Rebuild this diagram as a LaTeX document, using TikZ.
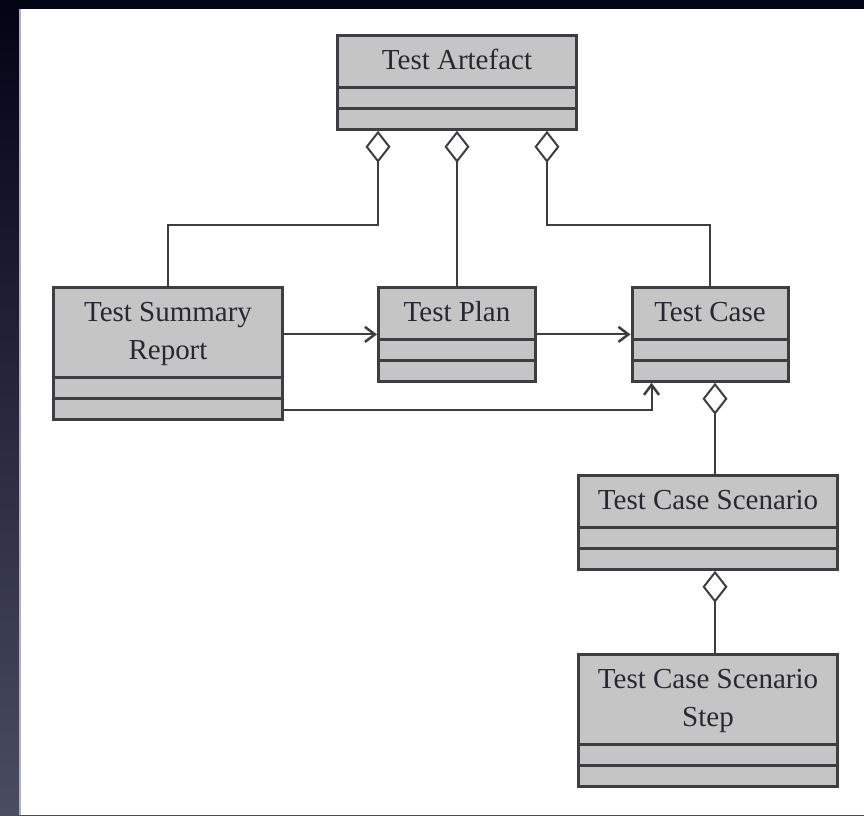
\documentclass[tikz,border=0pt]{standalone}
\usepackage{fontspec}
\setmainfont{Liberation Serif}
\usetikzlibrary{shapes.multipart,arrows.meta,positioning}

\definecolor{boxgray}{RGB}{197,197,197}
\definecolor{edgegray}{RGB}{62,62,66}
\definecolor{inkgray}{RGB}{40,40,48}
\definecolor{navytop}{RGB}{3,3,22}
\definecolor{navybot}{RGB}{74,76,98}

\tikzset{
  cls/.style={rectangle split, rectangle split parts=3, draw=edgegray, fill=boxgray,
    line width=0.06cm, text=inkgray,
    inner xsep=0.1cm, inner ysep=0.1cm,
    font=\fontsize{16.5}{22}\selectfont, anchor=north},
  aggr/.style={draw=edgegray, line width=0.04cm,
    {Diamond[open,length=0.64cm,width=0.5cm,line width=0.04cm]}-},
  assoc/.style={draw=edgegray, line width=0.04cm,
    -{Straight Barb[length=0.2cm,width=0.3cm,line width=0.05cm]}}
}

\begin{document}
\begin{tikzpicture}[x=0.02cm,y=-0.02cm]
	\useasboundingbox (0,0) rectangle (864,815);
	\shade[top color=navytop, bottom color=navybot] (0,0) rectangle (864,815);
	\fill[navytop] (0,0) rectangle (864,9);
	\fill[white] (20,9) rectangle (864,815);
	\draw[gray!60, line width=0.03cm] (20,9) -- (20,815);

	\node[cls, minimum width=4.8cm] (ta) at (457,34) {\strut Test Artefact\strut\nodepart{two}\nodepart{three}};
	\node[cls, minimum width=4.6cm] (tsr) at (168,286) {\begin{tabular}{@{}c@{}}Test Summary\\Report\end{tabular}\nodepart{two}\nodepart{three}};
	\node[cls, minimum width=3.14cm] (tp) at (457,286) {\strut Test Plan\strut\nodepart{two}\nodepart{three}};
	\node[cls, minimum width=3.12cm] (tc) at (710,286) {\strut Test Case\strut\nodepart{two}\nodepart{three}};
	\node[cls, minimum width=5.2cm] (tcs) at (708,474) {\strut Test Case Scenario\strut\nodepart{two}\nodepart{three}};
	\node[cls, minimum width=5.2cm] (tcss) at (708,653) {\begin{tabular}{@{}c@{}}Test Case Scenario\\Step\end{tabular}\nodepart{two}\nodepart{three}};

	% aggregations
	\draw[aggr] ([xshift=-1.58cm]ta.south) -- ++(0,94) -| (tsr.north);
	\draw[aggr] (ta.south) -- (tp.north);
	\draw[aggr] ([xshift=1.8cm]ta.south) -- ++(0,94) -| (tc.north);
	\draw[aggr] ([xshift=0.1cm]tc.south) -- ([xshift=0.1cm]tc.south |- tcs.north);
	\draw[aggr] ([xshift=0.14cm]tcs.south) -- ([xshift=0.14cm]tcs.south |- tcss.north);

	% associations
	\draw[assoc] (tsr.east |- tp.east) -- (tp.west);
	\draw[assoc] (tp.east) -- (tc.west);
	\draw[assoc] ([yshift=0.22cm]tsr.south east) -| ([xshift=-1.17cm]tc.south);
\end{tikzpicture}
\end{document}
